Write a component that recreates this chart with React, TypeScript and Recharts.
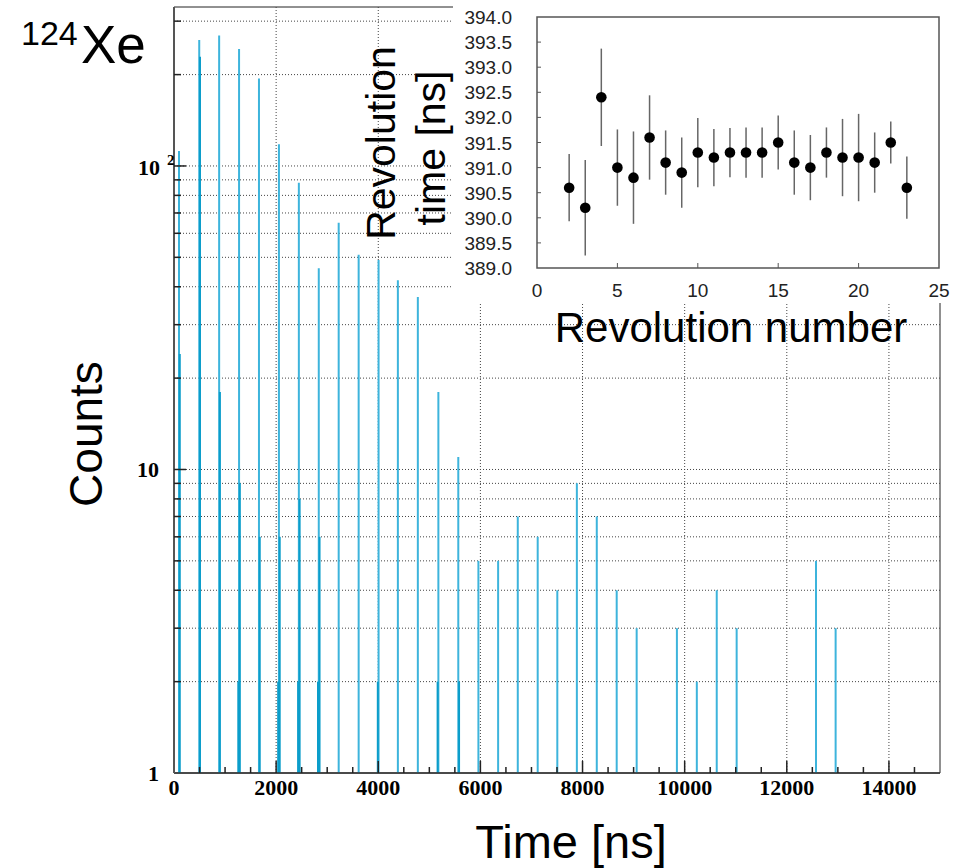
import React from 'react';
import {
  ComposedChart,
  ScatterChart,
  Scatter,
  XAxis,
  YAxis,
  ErrorBar,
  ReferenceLine,
  ReferenceArea,
} from 'recharts';

// ---------------- main histogram data ----------------
const peakTimes = [98, 494, 884, 1274, 1664, 2055, 2445, 2835, 3225, 3616, 4006, 4384, 4775, 5177, 5567, 5961, 6347, 6732, 7122, 7506, 7889, 8279, 8669, 9060, 9848, 10238, 10628, 11018, 12572, 12956];
const mainCounts = [112, 260, 269, 243, 194, 118, 88, 46, 65, 51, 49, 42, 37, 18, 11, 5, 5, 7, 6, 4, 9, 7, 4, 3, 3, 2, 4, 3, 5, 3];

const secondTimes = [113, 509, 899, 1289, 1679, 2070, 2460, 2850, 5582];
const secondCounts = [24, 229, 18, 9, 6, 6, 8, 6, 2];

const thirdTimes = [1259, 2040, 2430, 2820, 3991, 5162];
const thirdCounts = [2, 2, 2, 2, 2, 2];

const xTicks = [0, 500, 1000, 1500, 2000, 2500, 3000, 3500, 4000, 4500, 5000, 5500, 6000, 6500, 7000, 7500, 8000, 8500, 9000, 9500, 10000, 10500, 11000, 11500, 12000, 12500, 13000, 13500, 14000, 14500];
const xGrid = [2000, 4000, 6000, 8000, 10000, 12000, 14000];
const yTicks = [1, 2, 3, 4, 5, 6, 7, 8, 9, 10, 20, 30, 40, 50, 60, 70, 80, 90, 100, 200, 300];

// ---------------- inset data ----------------
const revNumbers = [2, 3, 4, 5, 6, 7, 8, 9, 10, 11, 12, 13, 14, 15, 16, 17, 18, 19, 20, 21, 22, 23];
const revTimes = [390.6, 390.2, 392.4, 391.0, 390.8, 391.6, 391.1, 390.9, 391.3, 391.2, 391.3, 391.3, 391.3, 391.5, 391.1, 391.0, 391.3, 391.2, 391.2, 391.1, 391.5, 390.6];
const revErrors = [0.67, 0.95, 0.97, 0.76, 0.92, 0.84, 0.64, 0.7, 0.69, 0.57, 0.49, 0.5, 0.5, 0.54, 0.64, 0.65, 0.5, 0.77, 0.87, 0.6, 0.42, 0.62];
const insetYTicks = [389, 389.5, 390, 390.5, 391, 391.5, 392, 392.5, 393, 393.5, 394];
const insetXTicks = [0, 5, 10, 15, 20, 25];

const mainBins = peakTimes.map((t, i) => ({ t, c: mainCounts[i], stem: [mainCounts[i] - 1, 0] }));
const secondBins = secondTimes.map((t, i) => ({ t, c: secondCounts[i], stem: [secondCounts[i] - 1, 0] }));
const thirdBins = thirdTimes.map((t, i) => ({ t, c: thirdCounts[i], stem: [thirdCounts[i] - 1, 0] }));
const insetData = revNumbers.map((n, i) => ({ n, v: revTimes[i], e: revErrors[i] }));

const SERIF = '"Liberation Serif", "Times New Roman", serif';
const SANS = '"Liberation Sans", Arial, sans-serif';

const Hidden = () => <g />;

const YTick = (props: any) => {
  const { x, y, payload } = props;
  const v = payload.value;
  const major = v === 1 || v === 10 || v === 100;
  let label: any = null;
  if (v === 1 || v === 10) {
    label = (
      <text x={x - 15} y={y + 7.5} textAnchor="end" fontFamily={SERIF} fontWeight="bold" fontSize={22} fill="#000">
        {String(v)}
      </text>
    );
  } else if (v === 100) {
    label = (
      <g>
        <text x={x - 14} y={y + 9} textAnchor="end" fontFamily={SERIF} fontWeight="bold" fontSize={22} fill="#000">10</text>
        <text x={x - 7} y={y - 1} fontFamily={SERIF} fontWeight="bold" fontSize={15} fill="#000">2</text>
      </g>
    );
  }
  return (
    <g>
      {v > 1 && <line x1={x} x2={x + (major ? 12 : 7)} y1={y} y2={y} stroke="#222" strokeWidth={1.5} />}
      {label}
    </g>
  );
};

const XTick = (props: any) => {
  const { x, y, payload } = props;
  const v = payload.value;
  const major = v % 2000 === 0;
  return (
    <g>
      {v > 0 && <line x1={x} x2={x} y1={y} y2={y - (major ? 12 : 6)} stroke="#222" strokeWidth={1.5} />}
      {major && (
        <text x={x} y={y + 22} textAnchor="middle" fontFamily={SERIF} fontWeight="bold" fontSize={22} fill="#000">
          {String(v)}
        </text>
      )}
    </g>
  );
};

const InsetYTick = (props: any) => {
  const { x, y, payload } = props;
  const v = payload.value;
  return (
    <g>
      {v > 389 && v < 394 && <line x1={x} x2={x + 4} y1={y} y2={y} stroke="#555" strokeWidth={1} />}
      <text x={x - 25} y={y + 7} textAnchor="end" fontFamily={SANS} fontSize={19} fill="#222">
        {v.toFixed(1)}
      </text>
    </g>
  );
};

const InsetXTick = (props: any) => {
  const { x, y, payload } = props;
  const v = payload.value;
  return (
    <g>
      {v > 0 && v < 25 && <line x1={x} x2={x} y1={y} y2={y - 5} stroke="#555" strokeWidth={1} />}
      <text x={x} y={y + 29} textAnchor="middle" fontFamily={SANS} fontSize={19} fill="#222">
        {String(v)}
      </text>
    </g>
  );
};

const Dot = (props: any) => <circle cx={props.cx} cy={props.cy} r={5.3} fill="#000" />;

export default function App() {
  return (
    <div style={{ position: 'absolute', left: 0, top: 0, width: 972, height: 868, background: '#fff', overflow: 'hidden' }}>
      <div style={{ position: 'absolute', left: 0, top: 0 }}>
        <ComposedChart width={972} height={868} margin={{ top: 7, right: 32, left: 0, bottom: 0 }}>
          <XAxis
            dataKey="t"
            type="number"
            domain={[0, 15000]}
            allowDataOverflow
            ticks={xTicks}
            interval={0}
            tick={<XTick />}
            tickLine={false}
            tickSize={0}
            tickMargin={0}
            height={95}
            axisLine={{ stroke: '#333', strokeWidth: 1.5 }}
          />
          <YAxis
            dataKey="c"
            type="number"
            scale="log"
            domain={[1, 334]}
            allowDataOverflow
            ticks={yTicks}
            interval={0}
            tick={<YTick />}
            tickLine={false}
            tickSize={0}
            tickMargin={0}
            width={174}
            axisLine={{ stroke: '#555', strokeWidth: 2 }}
          />
          {xGrid.map((v) => (
            <ReferenceLine key={'gx' + v} x={v} stroke="#444" strokeDasharray="1 2" strokeWidth={1} />
          ))}
          {yTicks.filter((v) => v > 1).map((v) => (
            <ReferenceLine key={'gy' + v} y={v} stroke="#444" strokeDasharray="1 2" strokeWidth={1} />
          ))}
          <Scatter data={mainBins} isAnimationActive={false} shape={Hidden}>
            <ErrorBar dataKey="stem" direction="y" width={0} stroke="#3db4dc" strokeWidth={2} isAnimationActive={false} />
          </Scatter>
          <Scatter data={secondBins} isAnimationActive={false} shape={Hidden}>
            <ErrorBar dataKey="stem" direction="y" width={0} stroke="#0b9dca" strokeWidth={2} isAnimationActive={false} />
          </Scatter>
          <Scatter data={thirdBins} isAnimationActive={false} shape={Hidden}>
            <ErrorBar dataKey="stem" direction="y" width={0} stroke="#0b9dca" strokeWidth={2} isAnimationActive={false} />
          </Scatter>
          <ReferenceArea x1={0} x2={15000} y1={1} y2={334} fill="none" fillOpacity={0} stroke="#222" strokeWidth={1} />
        </ComposedChart>
      </div>

      <div style={{ position: 'absolute', left: 453, top: 0, width: 519, height: 303, background: '#fff' }}>
        <ScatterChart width={519} height={303} margin={{ top: 17, right: 33, left: 0, bottom: 0 }}>
          <XAxis
            dataKey="n"
            type="number"
            domain={[0, 25]}
            allowDataOverflow
            ticks={insetXTicks}
            interval={0}
            tick={<InsetXTick />}
            tickLine={false}
            tickSize={0}
            tickMargin={0}
            axisLine={false}
            height={35}
          />
          <YAxis
            dataKey="v"
            type="number"
            domain={[389, 394]}
            allowDataOverflow
            ticks={insetYTicks}
            interval={0}
            tick={<InsetYTick />}
            tickLine={false}
            tickSize={0}
            tickMargin={0}
            axisLine={false}
            width={84}
          />
          <ReferenceArea x1={0} x2={25} y1={389} y2={394} fill="none" fillOpacity={0} stroke="#555" strokeWidth={1.5} />
          <Scatter data={insetData} isAnimationActive={false} shape={Dot}>
            <ErrorBar dataKey="e" direction="y" width={0} stroke="#666" strokeWidth={1.5} isAnimationActive={false} />
          </Scatter>
        </ScatterChart>
      </div>

      <svg width={972} height={868} style={{ position: 'absolute', left: 0, top: 0, pointerEvents: 'none' }}>
        <text x={21} y={45} fontFamily={SANS} fontSize={34} fill="#000">124</text>
        <text x={81} y={63} fontFamily={SANS} fontSize={53} fill="#000">Xe</text>
        <text transform="translate(102,434) rotate(-90)" textAnchor="middle" fontFamily={SANS} fontSize={46} fill="#000">Counts</text>
        <text x={571} y={858} textAnchor="middle" fontFamily={SANS} fontSize={47} fill="#000">Time [ns]</text>
        <text x={731} y={342} textAnchor="middle" fontFamily={SANS} fontSize={42} fill="#000">Revolution number</text>
        <text transform="translate(395,143) rotate(-90)" textAnchor="middle" fontFamily={SANS} fontSize={41} fill="#000">Revolution</text>
        <text transform="translate(445,148) rotate(-90)" textAnchor="middle" fontFamily={SANS} fontSize={41} fill="#000">time [ns]</text>
      </svg>
    </div>
  );
}
